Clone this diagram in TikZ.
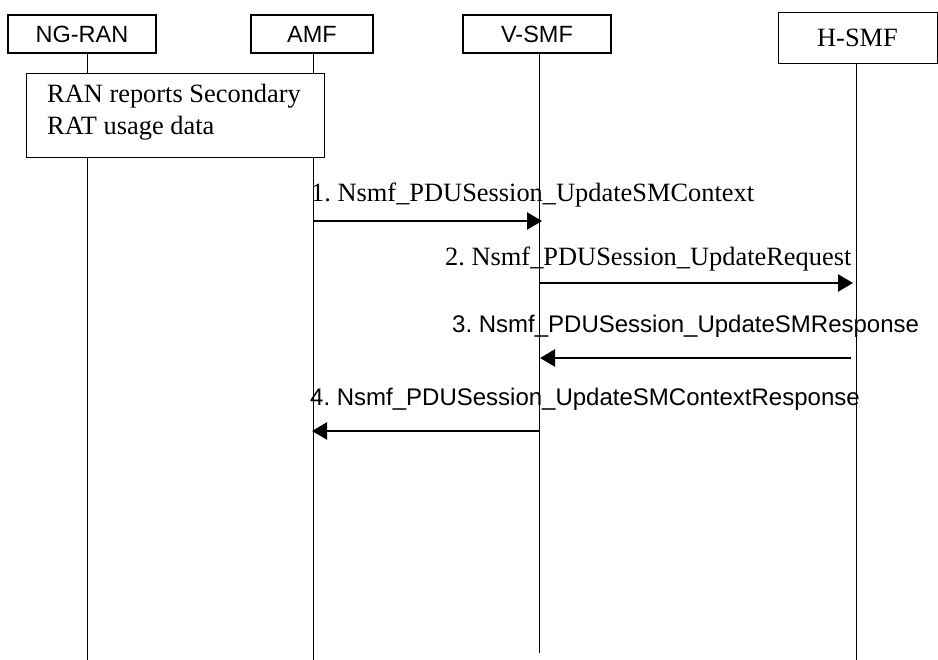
\documentclass[tikz,border=0pt]{standalone}
\usepackage{fontspec}
\setmainfont{Liberation Serif}
\newfontfamily\arialfont{Liberation Sans}
\usetikzlibrary{arrows.meta}
\frenchspacing
\begin{document}
\frenchspacing
\begin{tikzpicture}[x=1pt,y=-1pt,
  hdr/.style={draw, line width=1.8pt, inner sep=0pt, fill=white,
    font=\arialfont\fontsize{23.5}{28}\selectfont},
  hdrserif/.style={draw, line width=0.9pt, inner sep=0pt, fill=white,
    font=\fontsize{26.4}{31}\selectfont},
  life/.style={line width=0.9pt},
  msg/.style={line width=2.4pt, -{Triangle[length=15pt,width=17pt]}},
  serlbl/.style={inner sep=0pt, anchor=base west, font=\fontsize{26.4}{31}\selectfont},
  sanslbl/.style={inner sep=0pt, anchor=base west, font=\arialfont\fontsize{24}{28}\selectfont}
]
\useasboundingbox (0,0) rectangle (938,660);

% headers
\node[hdr, minimum width=148pt, minimum height=38pt] (ngran) at (82,34) {NG-RAN};
\node[hdr, minimum width=122pt, minimum height=38pt] (amf) at (312,34) {AMF};
\node[hdr, minimum width=148pt, minimum height=38pt] (vsmf) at (537,34) {V-SMF};
\node[hdrserif, minimum width=159pt, minimum height=51pt] (hsmf) at (857.5,37.5) {H-SMF};

% lifeline ends
\coordinate (ngranEnd) at (87,660);
\coordinate (amfEnd) at (313,660);
\coordinate (vsmfEnd) at (539,653);
\coordinate (hsmfEnd) at (856,660);

\draw[life] (ngran.south -| ngranEnd) -- (ngranEnd);
\draw[life] (amf.south -| amfEnd) -- (amfEnd);
\draw[life] (vsmf.south -| vsmfEnd) -- (vsmfEnd);
\draw[life] (hsmf.south -| hsmfEnd) -- (hsmfEnd);

% RAN box
\node[draw, line width=1.3pt, fill=white, anchor=north west, inner sep=0pt,
      minimum width=298pt, minimum height=84pt] (ranbox) at (26,73) {};
\node[serlbl] (ran1) at (47,103) {RAN reports Secondary};
\node[serlbl] (ran2) at (47,135) {RAT usage data};

% message coordinates
\coordinate (m1s) at (313,221);
\coordinate (m1e) at (542,221);
\coordinate (m2s) at (539,283);
\coordinate (m2e) at (853,283);
\coordinate (m3s) at (851,358);
\coordinate (m3e) at (540,358);
\coordinate (m4s) at (539,431);
\coordinate (m4e) at (312,431);

\draw[msg] (m1s) -- (m1e);
\draw[msg] (m2s) -- (m2e);
\draw[msg] (m3s) -- (m3e);
\draw[msg] (m4s) -- (m4e);

% labels
\node[serlbl] (l1) at (311,202) {1. Nsmf\_PDUSession\_UpdateSMContext};
\node[serlbl] (l2) at (445,266) {2. Nsmf\_PDUSession\_UpdateRequest};
\node[sanslbl] (l3) at (452,333) {3. Nsmf\_PDUSession\_UpdateSMResponse};
\node[sanslbl] (l4) at (310,406) {4. Nsmf\_PDUSession\_UpdateSMContextResponse};
\end{tikzpicture}
\end{document}
